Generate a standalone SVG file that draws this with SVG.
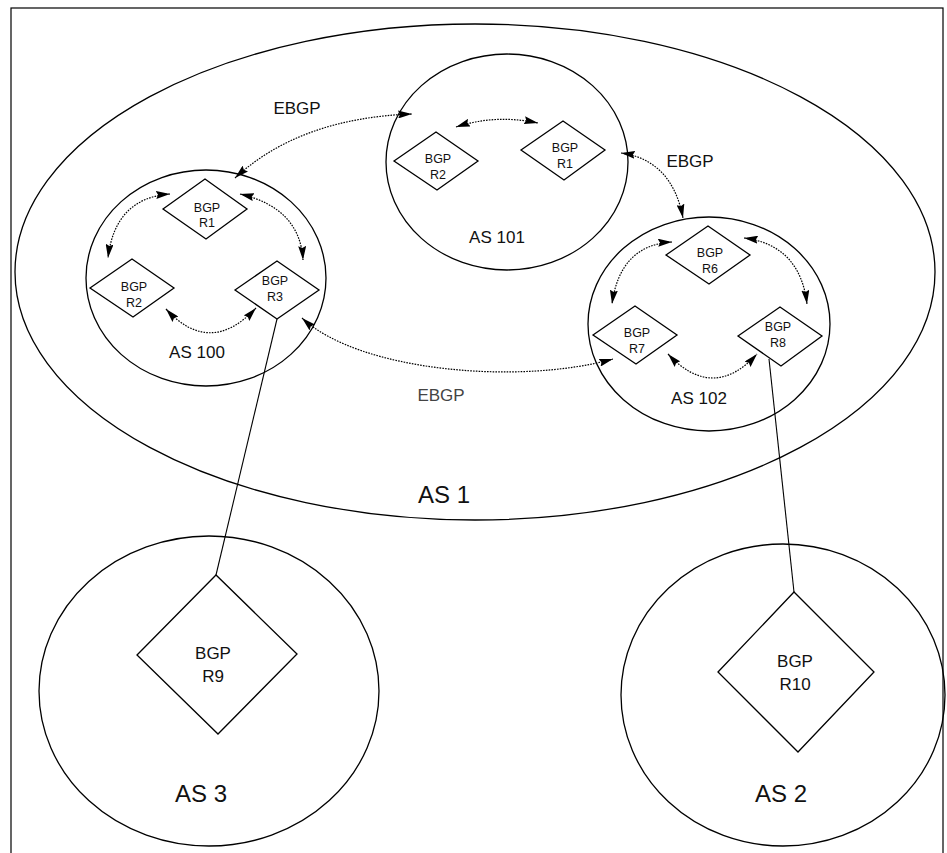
<svg xmlns="http://www.w3.org/2000/svg" width="947" height="853" viewBox="0 0 947 853">
<style>
.as{fill:none;stroke:#000;stroke-width:1.3}
.rt{fill:#fff;stroke:#000;stroke-width:1.3}
.t{font-family:"Liberation Sans",Arial,sans-serif;fill:#111;text-anchor:middle}
.s{font-size:12.5px}
.m{font-size:17px}
.l{font-size:24px}
.d{fill:none;stroke:#000;stroke-width:1.2;stroke-dasharray:1.6 1.2;marker-start:url(#ah);marker-end:url(#ah)}
.ln{fill:none;stroke:#000;stroke-width:1.1}
</style>
<defs>
<marker id="ah" viewBox="0 0 14 8" refX="14" refY="4" markerWidth="14" markerHeight="8" markerUnits="userSpaceOnUse" orient="auto-start-reverse">
<path d="M0,0 L14,4 L0,8 L2,4 z" fill="#000"/>
</marker>
</defs>
<rect x="0" y="0" width="947" height="853" fill="#fff"/>
<rect x="11" y="8" width="932" height="860" fill="none" stroke="#000" stroke-width="1.2"/>

<g id="as1">
<ellipse class="as" cx="475" cy="272" rx="460" ry="248"/>
<text class="t l" x="444" y="503">AS 1</text>
</g>
<g id="as100">
<ellipse class="as" cx="206" cy="278" rx="120" ry="108"/>
<text class="t m" x="197" y="358">AS 100</text>
</g>
<g id="as101">
<ellipse class="as" cx="507" cy="162" rx="121" ry="108"/>
<text class="t m" x="497" y="243">AS 101</text>
</g>
<g id="as102">
<ellipse class="as" cx="709" cy="324" rx="121" ry="107"/>
<text class="t m" x="699" y="404">AS 102</text>
</g>
<g id="as3">
<ellipse class="as" cx="209" cy="691" rx="170" ry="155"/>
<text class="t l" x="201" y="802">AS 3</text>
</g>
<g id="as2">
<ellipse class="as" cx="783" cy="695" rx="162" ry="151"/>
<text class="t l" x="781" y="802">AS 2</text>
</g>

<g id="connectors">
<line class="ln" x1="277" y1="319" x2="216" y2="575"/>
<line class="ln" x1="769" y1="359" x2="794" y2="592"/>
<path class="d" d="M235,178 Q300,118 412,114"/>
<path class="d" d="M621,153 Q672,160 683,218"/>
<path class="d" d="M302,318 C360,372 520,385 613,359"/>
<path class="d" d="M170,194 Q115,198 108,258"/>
<path class="d" d="M240,194 Q300,208 303,260"/>
<path class="d" d="M166,309 Q210,357 256,308"/>
<path class="d" d="M456,127 Q495,114 538,123"/>
<path class="d" d="M672,242 Q620,245 612,304"/>
<path class="d" d="M744,238 Q800,245 807,304"/>
<path class="d" d="M668,354 Q713,402 757,354"/>
</g>

<g id="ebgp-labels">
<text class="t m" x="297" y="114">EBGP</text>
<text class="t m" x="690" y="167">EBGP</text>
<text class="t m" x="441" y="401" style="fill:#444">EBGP</text>
</g>

<g id="as100-r1">
<polygon class="rt" points="163,209 205,179 247,209 206,239"/>
<text class="t s" x="207" y="212">BGP</text>
<text class="t s" x="207" y="227">R1</text>
</g>
<g id="as100-r2">
<polygon class="rt" points="90,288 132,259 174,288 133,317"/>
<text class="t s" x="134" y="291">BGP</text>
<text class="t s" x="134" y="307">R2</text>
</g>
<g id="as100-r3">
<polygon class="rt" points="235,290 277,261 319,290 277,319"/>
<text class="t s" x="275" y="285">BGP</text>
<text class="t s" x="275" y="301">R3</text>
</g>
<g id="as101-r2">
<polygon class="rt" points="394,161 436,132 478,161 437,190"/>
<text class="t s" x="438" y="163">BGP</text>
<text class="t s" x="438" y="179">R2</text>
</g>
<g id="as101-r1">
<polygon class="rt" points="521,150 563,121 605,150 564,180"/>
<text class="t s" x="565" y="152">BGP</text>
<text class="t s" x="565" y="168">R1</text>
</g>
<g id="as102-r6">
<polygon class="rt" points="666,255 708,226 750,255 709,284"/>
<text class="t s" x="710" y="257">BGP</text>
<text class="t s" x="710" y="273">R6</text>
</g>
<g id="as102-r7">
<polygon class="rt" points="593,335 635,306 677,335 636,364"/>
<text class="t s" x="637" y="337">BGP</text>
<text class="t s" x="637" y="353">R7</text>
</g>
<g id="as102-r8">
<polygon class="rt" points="738,336 780,307 822,336 781,366"/>
<text class="t s" x="778" y="331">BGP</text>
<text class="t s" x="778" y="347">R8</text>
</g>
<g id="as3-r9">
<polygon class="rt" points="137,655 216,575 297,654 218,734"/>
<text class="t m" x="213" y="659">BGP</text>
<text class="t m" x="213" y="682">R9</text>
</g>
<g id="as2-r10">
<polygon class="rt" points="718,672 794,592 874,672 798,752"/>
<text class="t m" x="795" y="667">BGP</text>
<text class="t m" x="795" y="690">R10</text>
</g>
</svg>
